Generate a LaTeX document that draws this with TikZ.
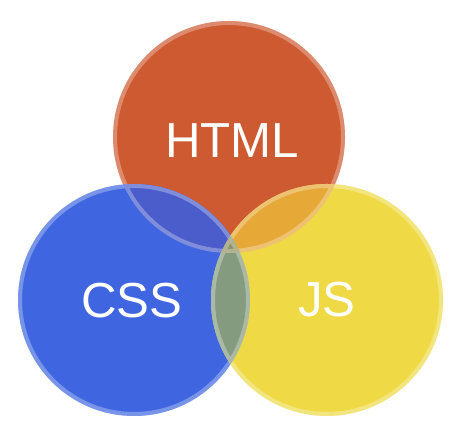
\documentclass[tikz,border=0pt]{standalone}
\usepackage{fontspec}
\setmainfont{Liberation Sans}
\definecolor{htmlred}{HTML}{CE5A31}
\definecolor{cssblue}{HTML}{3F66E0}
\definecolor{jsyellow}{HTML}{EFDA46}
\definecolor{htmlcss}{HTML}{4A5DCB}
\definecolor{htmljs}{HTML}{E6A937}
\definecolor{cssjs}{HTML}{849B7F}
\definecolor{allthree}{HTML}{909363}
\begin{document}
\begin{tikzpicture}[x=0.02cm,y=0.02cm]

    % Define the radius and the centres of the three circles
    \def\rad{116}    % radius of every circle
    \def\ring{114}   % radius of the light rim
    \coordinate (htmlc) at (229,308);
    \coordinate (cssc)  at (134,145);
    \coordinate (jsc)   at (327,145);

    % Background and size of the picture
    \fill[white] (0,0) rectangle (462,445);
    \useasboundingbox (0,0) rectangle (462,445);

    % Draw and fill the three circles
    \fill[htmlred]  (htmlc) circle[radius=\rad];
    \fill[cssblue]  (cssc)  circle[radius=\rad];
    \fill[jsyellow] (jsc)   circle[radius=\rad];

    % Fill the overlaps of two circles
    \begin{scope}
      \clip (htmlc) circle[radius=\rad];
      \fill[htmlcss] (cssc) circle[radius=\rad];
      \fill[htmljs]  (jsc)  circle[radius=\rad];
    \end{scope}
    \begin{scope}
      \clip (cssc) circle[radius=\rad];
      \fill[cssjs] (jsc) circle[radius=\rad];
    \end{scope}

    % Fill the overlap of all three circles
    \begin{scope}
      \clip (htmlc) circle[radius=\rad];
      \clip (cssc)  circle[radius=\rad];
      \fill[allthree] (jsc) circle[radius=\rad];
    \end{scope}

    % Draw the light rims round the circles
    \draw[white,opacity=0.3,line width=2.3pt]
      (htmlc) circle[radius=\ring]
      (cssc)  circle[radius=\ring]
      (jsc)   circle[radius=\ring];

    % Label the three circles
    \node[text=white,font=\fontsize{28}{30}\selectfont,inner sep=0pt] (html) at (232,304) {HTML};
    \node[text=white,font=\fontsize{28}{30}\selectfont,inner sep=0pt] (css)  at (132,144) {CSS};
    \node[text=white,font=\fontsize{28}{30}\selectfont,inner sep=0pt] (js)   at (327,145) {JS};

\end{tikzpicture}
\end{document}
